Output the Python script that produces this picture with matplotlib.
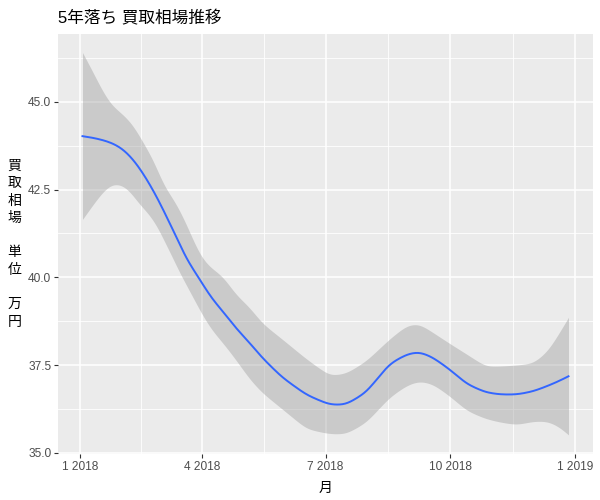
import numpy as np
import pandas as pd
import matplotlib
matplotlib.use("Agg")
import matplotlib.pyplot as plt
import matplotlib.dates as mdates

"""
5年落ち 買取相場推移 (smoothed trend with confidence band, ggplot look)
"""

# ---- data ----
dates = pd.to_datetime([
    "2018-01-03", "2018-01-10", "2018-01-17", "2018-01-24", "2018-02-01",
    "2018-02-08", "2018-02-13", "2018-02-18", "2018-02-23", "2018-02-28",
    "2018-03-05", "2018-03-10", "2018-03-15", "2018-03-20", "2018-03-26",
    "2018-04-01", "2018-04-08", "2018-04-16", "2018-04-26", "2018-05-06",
    "2018-05-15", "2018-05-30", "2018-06-17", "2018-07-04", "2018-07-16",
    "2018-07-31", "2018-08-17", "2018-08-30", "2018-09-08", "2018-09-18",
    "2018-10-01", "2018-10-13", "2018-10-27", "2018-11-07", "2018-11-19",
    "2018-12-01", "2018-12-12", "2018-12-21", "2018-12-27",
])
fit = [
    44.02, 43.98, 43.92, 43.84, 43.68, 43.42, 43.17, 42.88, 42.55, 42.20,
    41.80, 41.40, 41.00, 40.55, 40.20, 39.84, 39.40, 39.05, 38.55, 38.14,
    37.72, 37.15, 36.65, 36.37, 36.37, 36.72, 37.53, 37.81, 37.88, 37.72,
    37.36, 36.96, 36.72, 36.66, 36.66, 36.75, 36.91, 37.06, 37.18,
]
upper = [
    46.40, 45.90, 45.35, 44.90, 44.67, 44.40, 44.10, 43.73, 43.45, 42.97,
    42.50, 42.30, 41.95, 41.56, 41.00, 40.52, 40.25, 40.05, 39.50, 39.15,
    38.70, 38.24, 37.67, 37.20, 37.26, 37.62, 38.24, 38.64, 38.68, 38.43,
    38.10, 37.81, 37.46, 37.47, 37.50, 37.55, 37.91, 38.47, 38.86,
]
lower = [
    41.65, 42.03, 42.40, 42.67, 42.65, 42.42, 42.10, 41.93, 41.70, 41.40,
    40.95, 40.61, 40.15, 39.82, 39.38, 38.94, 38.50, 38.15, 37.65, 37.10,
    36.72, 36.25, 35.68, 35.54, 35.54, 35.87, 36.58, 36.93, 37.05, 36.96,
    36.60, 36.20, 35.97, 35.87, 35.80, 35.90, 35.90, 35.72, 35.51,
]
x_breaks = pd.to_datetime(["2018-01-01", "2018-04-01", "2018-07-01",
                           "2018-10-01", "2019-01-01"])
x_labels = ["1 2018", "4 2018", "7 2018", "10 2018", "1 2019"]
y_breaks = [35.0, 37.5, 40.0, 42.5, 45.0]
y_labels = ["35.0", "37.5", "40.0", "42.5", "45.0"]

title = "5年落ち 買取相場推移"
xlab = "月"
ylab = "買\n取\n相\n場\n\n単\n位\n\n万\n円"

fonts = ["Liberation Sans", "Noto Sans CJK JP"]
plt.rcParams["font.family"] = fonts


def smooth(xd, vals, xs, width=4.0):
    """ resample the read-off points on a dense grid and soften the corners """
    dense = np.interp(xs, xd, vals)
    k = np.arange(-3 * width, 3 * width + 1)
    w = np.exp(-0.5 * (k / width) ** 2)
    w /= w.sum()
    pad = len(k) // 2
    # reflect-pad so the ends keep their values
    padded = np.concatenate([2 * dense[0] - dense[pad:0:-1], dense,
                             2 * dense[-1] - dense[-2:-pad - 2:-1]])
    return np.convolve(padded, w, mode="valid")


def main():
    fig = plt.figure(figsize=(6, 5), dpi=100)
    ax = fig.add_axes([0.097, 0.092, 0.891, 0.841])
    ax.set_facecolor("#EBEBEB")
    for s in ax.spines.values():
        s.set_visible(False)

    xd = mdates.date2num(dates)
    xb = mdates.date2num(x_breaks)
    xs = np.linspace(xd.min(), xd.max(), 360)

    # limits with ggplot style 5% expansion
    span = xd.max() - xd.min()
    ax.set_xlim(xd.min() - 0.05 * span, xd.max() + 0.05 * span)
    ylo, yhi = min(lower), max(upper)
    ax.set_ylim(ylo - 0.05 * (yhi - ylo), yhi + 0.05 * (yhi - ylo))

    # grid: minor at midpoints, major at breaks
    xminor = (xb[:-1] + xb[1:]) / 2
    yminor = [(a + b) / 2 for a, b in zip(y_breaks[:-1], y_breaks[1:])] + [46.25]
    for v in xminor:
        ax.axvline(v, color="white", lw=0.6, zorder=0.5)
    for v in yminor:
        ax.axhline(v, color="white", lw=0.6, zorder=0.5)
    for v in xb:
        ax.axvline(v, color="white", lw=1.1, zorder=0.6)
    for v in y_breaks:
        ax.axhline(v, color="white", lw=1.1, zorder=0.6)

    ax.fill_between(xs, smooth(xd, lower, xs), smooth(xd, upper, xs),
                    color="#999999", alpha=0.4, lw=0, zorder=1)
    ax.plot(xs, smooth(xd, fit, xs), color="#3366FF", lw=1.4, zorder=2)

    ax.set_xticks(xb)
    ax.set_xticklabels(x_labels)
    ax.set_yticks(y_breaks)
    ax.set_yticklabels(y_labels)
    ax.tick_params(length=3, width=0.8, color="#333333", labelcolor="#4D4D4D",
                   labelsize=8.6, pad=2)

    ax.set_xlabel(xlab, fontsize=10, color="black", labelpad=6)
    ax.set_ylabel(ylab, fontsize=10, rotation=0, va="center", ha="center",
                  linespacing=1.3)
    ax.yaxis.set_label_coords(-0.082, 0.5)
    ax.set_title(title, loc="left", fontsize=12, pad=7)

    fig.savefig("out.png", dpi=100)
    plt.close(fig)


if __name__ == "__main__":
    main()
